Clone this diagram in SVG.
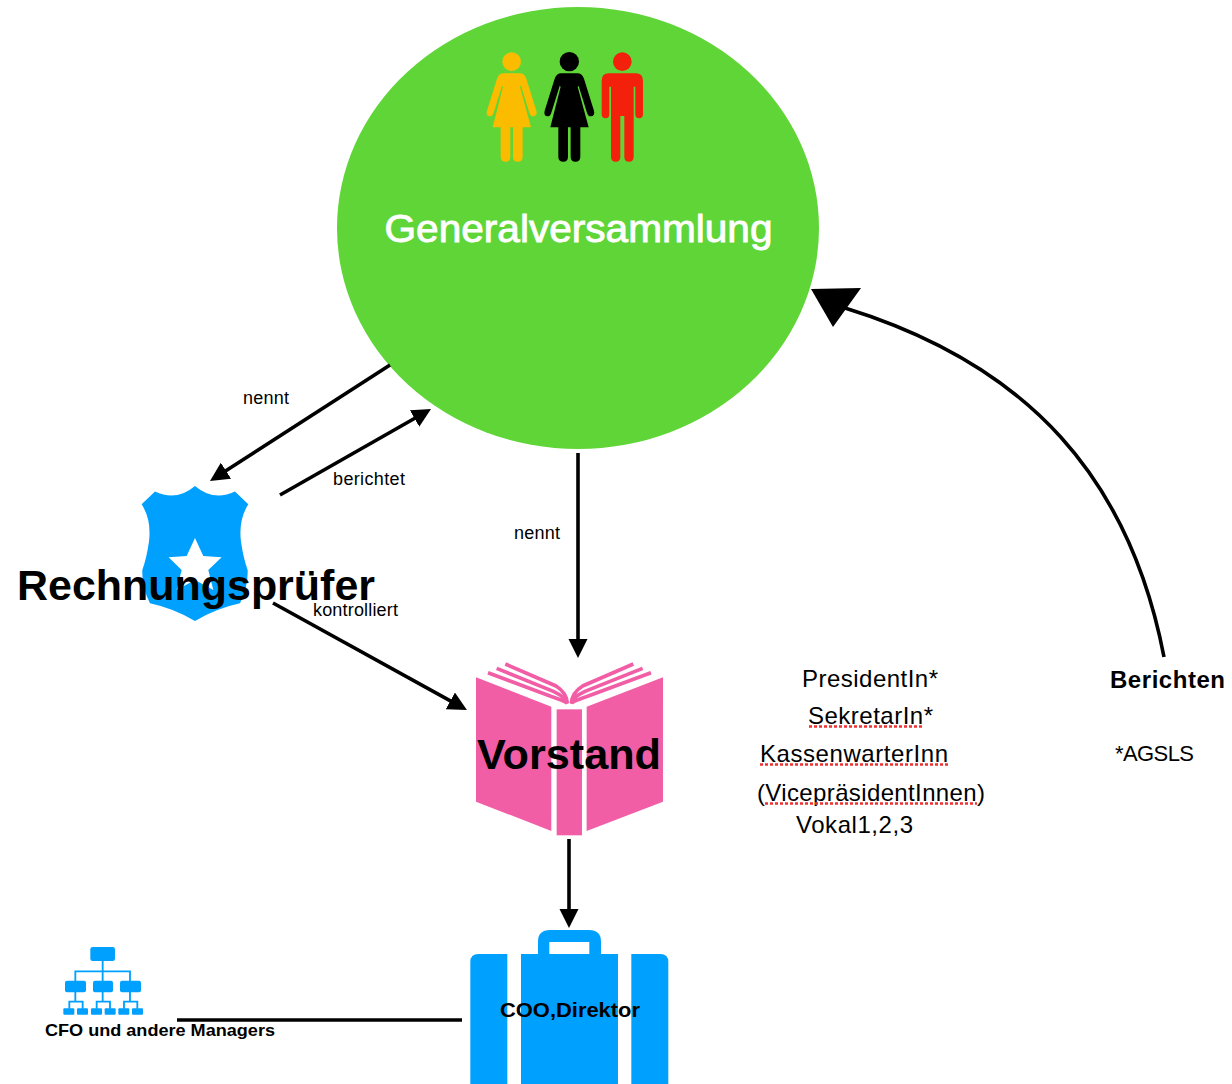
<svg xmlns="http://www.w3.org/2000/svg" width="1232" height="1084" viewBox="0 0 1232 1084">
<style>
text{font-family:"Liberation Sans",Arial,Helvetica,sans-serif;fill:#000}
.b{font-weight:700}
.s{font-size:18px}
.m{font-size:24px}
.blue{fill:#00a0ff}
.pink{fill:#f15ea6}
.conn{fill:none;stroke:#000;stroke-width:3.6}
.sq{fill:none;stroke:#ee3030;stroke-width:2.4;stroke-dasharray:3 2}
.pg{fill:none;stroke:#f15ea6;stroke-width:11}
.org{fill:none;stroke:#00a0ff;stroke-width:5.500}
</style>
<defs>
<marker id="ah" markerUnits="userSpaceOnUse" markerWidth="20" markerHeight="20" refX="14" refY="9.500" orient="auto"><path d="M0,0L19,9.500L0,19z" fill="#000"/></marker>
<path id="woman" d="M-24,100H24Q38,100 44,116L74,212Q78,228 64,229Q56,229 53,218L28,138L25,140L58,262H33V350Q33,365 18,365Q4,365 4,350V262H-4V350Q-4,365 -18,365Q-33,365 -33,350V262H-57L-26,140L-29,138L-54,218Q-57,229 -65,229Q-78,228 -74,212L-44,116Q-38,100 -24,100Z"/>
</defs>
<g id="generalversammlung">
<ellipse cx="578" cy="228" rx="241" ry="221" fill="#60d537"/>
<g transform="translate(470 40) scale(.3333)">
<g fill="#fbbc00" transform="translate(125 0)"><circle cy="65" r="28"/><use href="#woman"/></g>
<g fill="#000" transform="translate(298 0)"><circle cy="65" r="29"/><use href="#woman"/></g>
<g fill="#f3200c" transform="translate(457 0)"><circle cy="65" r="28"/><path d="M-40,100H40Q62,100 62,122V222Q62,235 50,235Q39,235 39,222V140H34V350Q34,365 20,365Q6,365 6,350V228H-6V350Q-6,365 -20,365Q-34,365 -34,350V140H-39V222Q-39,235 -50,235Q-62,235 -62,222V122Q-62,100 -40,100Z"/></g>
</g>
<text x="578.5" y="242" text-anchor="middle" font-size="39" style="fill:#fff;stroke:#fff;stroke-width:.9" textLength="388" lengthAdjust="spacingAndGlyphs">Generalversammlung</text>
</g>
<g id="rechnungspruefer">
<g transform="scale(.3333) translate(0 1410)">
<path class="blue" d="M585,48Q530,95 465,65L425,103Q455,150 447,215Q440,265 427,300Q425,350 450,400Q520,415 585,453Q650,415 720,400Q745,350 743,300Q730,265 723,215Q715,150 745,103L705,65Q640,95 585,48Z"/>
<path fill="#fff" d="M585,204L610,258L665,262L625,300L640,360L585,330L530,360L545,300L506,262L560,258Z"/>
</g>
<text class="b" x="17" y="600" font-size="43" textLength="358" lengthAdjust="spacingAndGlyphs">Rechnungsprüfer</text>
</g>
<g id="vorstand">
<g transform="translate(460 650) scale(.3333)">
<path class="pink" d="M48,82L274,170V543L48,455Z"/>
<path class="pink" d="M609,82L380,170V543L609,455Z"/>
<rect class="pink" x="290" y="178" width="76" height="378"/>
<path class="pg" d="M84,68L270,138Q320,155 322,162M110,55L280,124Q318,142 322,160M136,42L288,108Q320,128 322,160M573,68L385,138Q335,155 334,162M548,55L375,124Q337,142 334,160M520,42L368,108Q336,128 334,160"/>
</g>
<text class="b" x="477" y="769" font-size="43" textLength="184" lengthAdjust="spacingAndGlyphs">Vorstand</text>
</g>
<g id="coo">
<g transform="translate(450 900) scale(.3333)">
<path class="blue" d="M172,162V590H85Q61,590 61,560V186Q61,162 85,162Z"/>
<path class="blue" d="M544,162V590H631Q655,590 655,560V186Q655,162 631,162Z"/>
<path class="blue" d="M213,162H264V125Q264,90 300,90H417Q453,90 453,125V162H504V590H213ZM298,126V162H418V126Z" fill-rule="evenodd"/>
</g>
<text class="b" x="500" y="1017" font-size="20" textLength="140" lengthAdjust="spacingAndGlyphs">COO,Direktor</text>
</g>
<g id="managers">
<g transform="translate(30 930) scale(.3333)">
<path class="org" d="M218,90V155M136,155V124H300V155M136,185V215M218,185V215M300,185V215M118,236V215H158V236M200,236V215H240V236M282,236V215H322V236"/>
<rect class="blue" x="181" y="51" width="74" height="42" rx="7"/>
<rect class="blue" x="105" y="152" width="63" height="35" rx="6"/>
<rect class="blue" x="189" y="152" width="60" height="35" rx="6"/>
<rect class="blue" x="270" y="152" width="63" height="35" rx="6"/>
<rect class="blue" x="100" y="235" width="33" height="19" rx="3"/>
<rect class="blue" x="141" y="235" width="33" height="19" rx="3"/>
<rect class="blue" x="183" y="235" width="33" height="19" rx="3"/>
<rect class="blue" x="224" y="235" width="33" height="19" rx="3"/>
<rect class="blue" x="265" y="235" width="33" height="19" rx="3"/>
<rect class="blue" x="306" y="235" width="33" height="19" rx="3"/>
</g>
<text class="b" x="45" y="1036" font-size="17" textLength="230" lengthAdjust="spacingAndGlyphs">CFO und andere Managers</text>
</g>
<g id="connectors">
<line class="conn" x1="390" y1="365" x2="214.200" y2="478.300" marker-end="url(#ah)"/>
<line class="conn" x1="280" y1="495" x2="426.700" y2="411.500" marker-end="url(#ah)"/>
<line class="conn" x1="578" y1="453" x2="578" y2="653" marker-end="url(#ah)"/>
<line class="conn" x1="273" y1="603" x2="462.600" y2="707.600" marker-end="url(#ah)"/>
<line class="conn" x1="569" y1="839" x2="569" y2="923" marker-end="url(#ah)"/>
<line class="conn" x1="177" y1="1020" x2="462" y2="1020"/>
<path class="conn" d="M1164,657C1130,480 1030,365 845,308"/>
<path d="M811,289L861,288L833,327Z" fill="#000"/>
</g>
<g id="labels">
<text class="s" x="243" y="404" textLength="46">nennt</text>
<text class="s" x="333" y="485" textLength="72">berichtet</text>
<text class="s" x="514" y="539" textLength="46">nennt</text>
<text class="s" x="313" y="616" textLength="85">kontrolliert</text>
<text class="m" x="802" y="687" textLength="136">PresidentIn*</text>
<text class="m" x="808" y="724" textLength="125">SekretarIn*</text>
<text class="m" x="760" y="762" textLength="188">KassenwarterInn</text>
<text class="m" x="757" y="801" textLength="228">(VicepräsidentInnen)</text>
<text class="m" x="796" y="833" textLength="117">Vokal1,2,3</text>
<text class="m b" x="1110" y="688" textLength="115">Berichten</text>
<text class="m" style="font-size:22px" x="1115" y="761" textLength="79">*AGSLS</text>
<path class="sq" d="M809,726.500H922M760,764.500H948M765,803.500H977"/>
</g>
</svg>
